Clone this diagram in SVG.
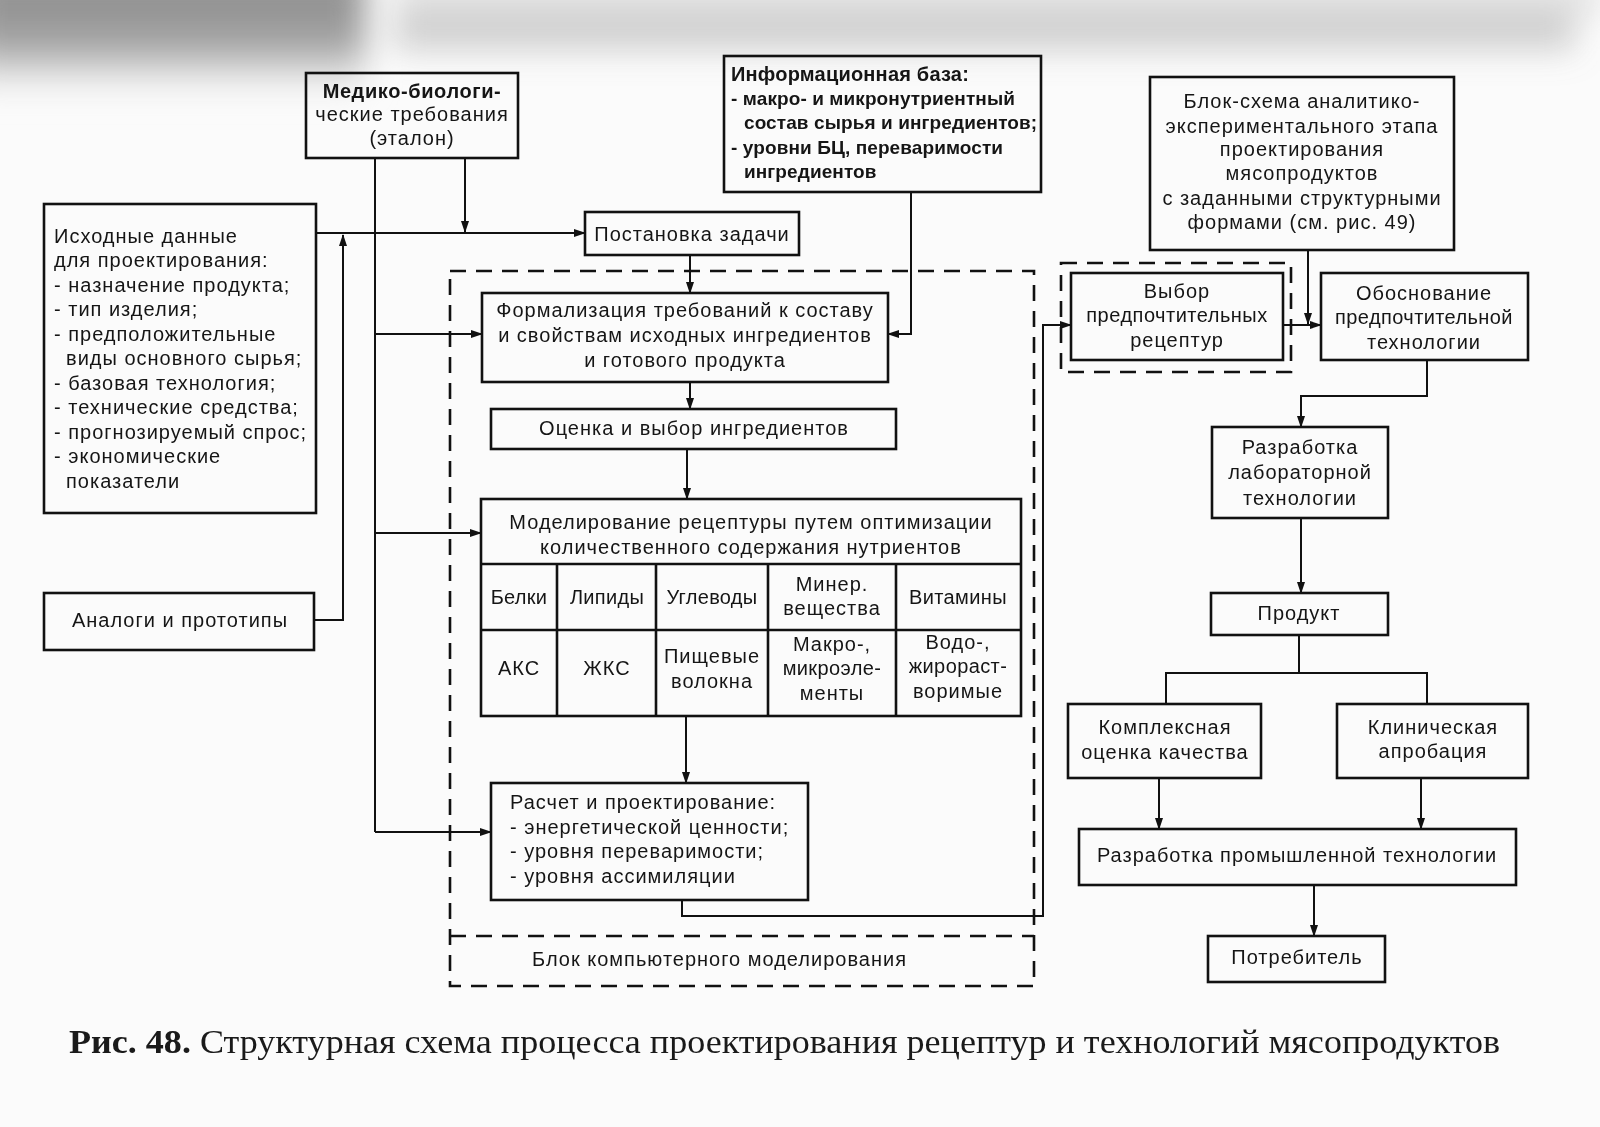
<svg xmlns="http://www.w3.org/2000/svg" width="1600" height="1127" viewBox="0 0 1600 1127">
<defs>
<marker id="ar" markerUnits="userSpaceOnUse" markerWidth="12" markerHeight="8" refX="11" refY="4" orient="auto">
<path d="M0,0 L12,4 L0,8 z" fill="#111"/>
</marker>
<filter id="blur" x="-30%" y="-100%" width="160%" height="300%"><feGaussianBlur stdDeviation="16"/></filter>
<linearGradient id="fadeL" x1="0" y1="0" x2="0" y2="1">
<stop offset="0" stop-color="#6e6e6e"/><stop offset="0.6" stop-color="#8a8a8a"/><stop offset="1" stop-color="#fbfbfb"/>
</linearGradient>
<style>
.box{fill:none;stroke:#111;stroke-width:2.6}
.dash{fill:none;stroke:#111;stroke-width:2.6;stroke-dasharray:16 10}
.ln{fill:none;stroke:#111;stroke-width:2}
.t{font-family:"Liberation Sans",Arial,sans-serif;font-size:20px;fill:#151515;letter-spacing:1px}
.c{text-anchor:middle}
.b{font-weight:bold}
.ib{font-family:"Liberation Sans",Arial,sans-serif;font-size:19px;font-weight:bold;fill:#151515;letter-spacing:0.1px}
.ih{font-size:20px;letter-spacing:0.2px}
.cap{font-family:"Liberation Serif","Times New Roman",serif;font-size:34px;fill:#1a1a1a}
</style>
</defs>
<rect width="1600" height="1127" fill="#fbfbfb"/>
<g id="scan-shading" filter="url(#blur)">
<rect x="-30" y="-30" width="395" height="120" fill="url(#fadeL)" opacity="0.8"/>
<rect x="395" y="12" width="1180" height="38" fill="#8f8f8f" opacity="0.4"/>
<rect x="395" y="-20" width="1205" height="35" fill="#b5b5b5" opacity="0.35"/>
</g>

<g id="connectors">
<path class="ln" d="M375,158 V832"/>
<path class="ln" d="M375,334 H482" marker-end="url(#ar)"/>
<path class="ln" d="M375,533 H481" marker-end="url(#ar)"/>
<path class="ln" d="M375,832 H491" marker-end="url(#ar)"/>
<path class="ln" d="M465,158 V232" marker-end="url(#ar)"/>
<path class="ln" d="M316,233 H585" marker-end="url(#ar)"/>
<path class="ln" d="M314,620 H343 V235" marker-end="url(#ar)"/>
<path class="ln" d="M690,255 V293" marker-end="url(#ar)"/>
<path class="ln" d="M911,192 V334 H888" marker-end="url(#ar)"/>
<path class="ln" d="M690,382 V409" marker-end="url(#ar)"/>
<path class="ln" d="M687,449 V499" marker-end="url(#ar)"/>
<path class="ln" d="M686,716 V783" marker-end="url(#ar)"/>
<path class="ln" d="M682,900 V916 H1043 V325 H1071" marker-end="url(#ar)"/>
<path class="ln" d="M1283,325 H1321" marker-end="url(#ar)"/>
<path class="ln" d="M1308,250 V324" marker-end="url(#ar)"/>
<path class="ln" d="M1427,360 V396 H1301 V427" marker-end="url(#ar)"/>
<path class="ln" d="M1301,518 V593" marker-end="url(#ar)"/>
<path class="ln" d="M1299,635 V673 M1166,704 V673 H1427 V704"/>
<path class="ln" d="M1159,778 V829" marker-end="url(#ar)"/>
<path class="ln" d="M1421,778 V829" marker-end="url(#ar)"/>
<path class="ln" d="M1314,885 V936" marker-end="url(#ar)"/>
</g>

<g id="computer-modeling-block">
<rect class="dash" x="450" y="271" width="584" height="715"/>
<path class="dash" d="M450,936 H1034"/>
<text class="t" x="532" y="966">Блок компьютерного моделирования</text>
</g>

<g id="medico">
<rect class="box" x="306" y="73" width="212" height="85"/>
<text class="t c b" x="412" y="98" style="letter-spacing:0.6px">Медико-биологи-</text>
<text class="t c" x="412" y="121">ческие требования</text>
<text class="t c" x="412" y="145">(эталон)</text>
</g>

<g id="infobase">
<rect class="box" x="724" y="56" width="317" height="136"/>
<text class="ib ih" x="731" y="81">Информационная база:</text>
<text class="ib" x="731" y="105">- макро- и микронутриентный</text>
<text class="ib" x="744" y="129">состав сырья и ингредиентов;</text>
<text class="ib" x="731" y="154">- уровни БЦ, переваримости</text>
<text class="ib" x="744" y="178">ингредиентов</text>
</g>

<g id="blockscheme">
<rect class="box" x="1150" y="77" width="304" height="173"/>
<text class="t c" x="1302" y="108">Блок-схема аналитико-</text>
<text class="t c" x="1302" y="133">экспериментального этапа</text>
<text class="t c" x="1302" y="156">проектирования</text>
<text class="t c" x="1302" y="180">мясопродуктов</text>
<text class="t c" x="1302" y="205">с заданными структурными</text>
<text class="t c" x="1302" y="229">формами (см. рис. 49)</text>
</g>

<g id="source-data">
<rect class="box" x="44" y="204" width="272" height="309"/>
<text class="t" x="54" y="243">Исходные данные</text>
<text class="t" x="54" y="267">для проектирования:</text>
<text class="t" x="54" y="292">- назначение продукта;</text>
<text class="t" x="54" y="316">- тип изделия;</text>
<text class="t" x="54" y="341">- предположительные</text>
<text class="t" x="66" y="365">виды основного сырья;</text>
<text class="t" x="54" y="390">- базовая технология;</text>
<text class="t" x="54" y="414">- технические средства;</text>
<text class="t" x="54" y="439">- прогнозируемый спрос;</text>
<text class="t" x="54" y="463">- экономические</text>
<text class="t" x="66" y="488">показатели</text>
</g>

<g id="analogs">
<rect class="box" x="44" y="593" width="270" height="57"/>
<text class="t c" x="180" y="627">Аналоги и прототипы</text>
</g>

<g id="task">
<rect class="box" x="585" y="212" width="214" height="43"/>
<text class="t c" x="692" y="241">Постановка задачи</text>
</g>

<g id="formalization">
<rect class="box" x="482" y="293" width="406" height="89"/>
<text class="t c" x="685" y="317">Формализация требований к составу</text>
<text class="t c" x="685" y="342">и свойствам исходных ингредиентов</text>
<text class="t c" x="685" y="367">и готового продукта</text>
</g>

<g id="evaluation">
<rect class="box" x="491" y="409" width="405" height="40"/>
<text class="t c" x="694" y="435">Оценка и выбор ингредиентов</text>
</g>

<g id="modeling">
<rect class="box" x="481" y="499" width="540" height="217"/>
<path class="box" d="M481,564 H1021 M481,630 H1021 M557,564 V716 M656,564 V716 M768,564 V716 M896,564 V716"/>
<text class="t c" x="751" y="529">Моделирование рецептуры путем оптимизации</text>
<text class="t c" x="751" y="554">количественного содержания нутриентов</text>
<text class="t c" x="519" y="604" style="letter-spacing:0.3px">Белки</text>
<text class="t c" x="607" y="604" style="letter-spacing:0.3px">Липиды</text>
<text class="t c" x="712" y="604" style="letter-spacing:0.3px">Углеводы</text>
<text class="t c" x="832" y="591">Минер.</text>
<text class="t c" x="832" y="615">вещества</text>
<text class="t c" x="958" y="604" style="letter-spacing:0.4px">Витамины</text>
<text class="t c" x="519" y="675">АКС</text>
<text class="t c" x="607" y="675">ЖКС</text>
<text class="t c" x="712" y="663">Пищевые</text>
<text class="t c" x="712" y="688">волокна</text>
<text class="t c" x="832" y="651">Макро-,</text>
<text class="t c" x="832" y="675" style="letter-spacing:0.4px">микроэле-</text>
<text class="t c" x="832" y="700">менты</text>
<text class="t c" x="958" y="649">Водо-,</text>
<text class="t c" x="958" y="673" style="letter-spacing:0.4px">жирораст-</text>
<text class="t c" x="958" y="698">воримые</text>
</g>

<g id="calculation">
<rect class="box" x="491" y="783" width="317" height="117"/>
<text class="t" x="510" y="809">Расчет и проектирование:</text>
<text class="t" x="510" y="834">- энергетической ценности;</text>
<text class="t" x="510" y="858">- уровня переваримости;</text>
<text class="t" x="510" y="883">- уровня ассимиляции</text>
</g>

<g id="choice">
<rect class="dash" x="1061" y="263" width="230" height="109"/>
<rect class="box" x="1071" y="273" width="212" height="87"/>
<text class="t c" x="1177" y="298">Выбор</text>
<text class="t c" x="1177" y="322" style="letter-spacing:0.5px">предпочтительных</text>
<text class="t c" x="1177" y="347">рецептур</text>
</g>

<g id="justification">
<rect class="box" x="1321" y="273" width="207" height="87"/>
<text class="t c" x="1424" y="300">Обоснование</text>
<text class="t c" x="1424" y="324" style="letter-spacing:0.4px">предпочтительной</text>
<text class="t c" x="1424" y="349">технологии</text>
</g>

<g id="lab-tech">
<rect class="box" x="1212" y="427" width="176" height="91"/>
<text class="t c" x="1300" y="454">Разработка</text>
<text class="t c" x="1300" y="479">лабораторной</text>
<text class="t c" x="1300" y="505">технологии</text>
</g>

<g id="product">
<rect class="box" x="1211" y="593" width="177" height="42"/>
<text class="t c" x="1299" y="620">Продукт</text>
</g>

<g id="complex">
<rect class="box" x="1068" y="704" width="193" height="74"/>
<text class="t c" x="1165" y="734">Комплексная</text>
<text class="t c" x="1165" y="759">оценка качества</text>
</g>

<g id="clinical">
<rect class="box" x="1337" y="704" width="191" height="74"/>
<text class="t c" x="1433" y="734">Клиническая</text>
<text class="t c" x="1433" y="758">апробация</text>
</g>

<g id="industrial">
<rect class="box" x="1079" y="829" width="437" height="56"/>
<text class="t c" x="1297" y="862">Разработка промышленной технологии</text>
</g>

<g id="consumer">
<rect class="box" x="1208" y="936" width="177" height="46"/>
<text class="t c" x="1297" y="964">Потребитель</text>
</g>

<text class="cap" x="69" y="1053" textLength="1431" lengthAdjust="spacingAndGlyphs"><tspan font-weight="bold">Рис. 48.</tspan> Структурная схема процесса проектирования рецептур и технологий мясопродуктов</text>
</svg>
